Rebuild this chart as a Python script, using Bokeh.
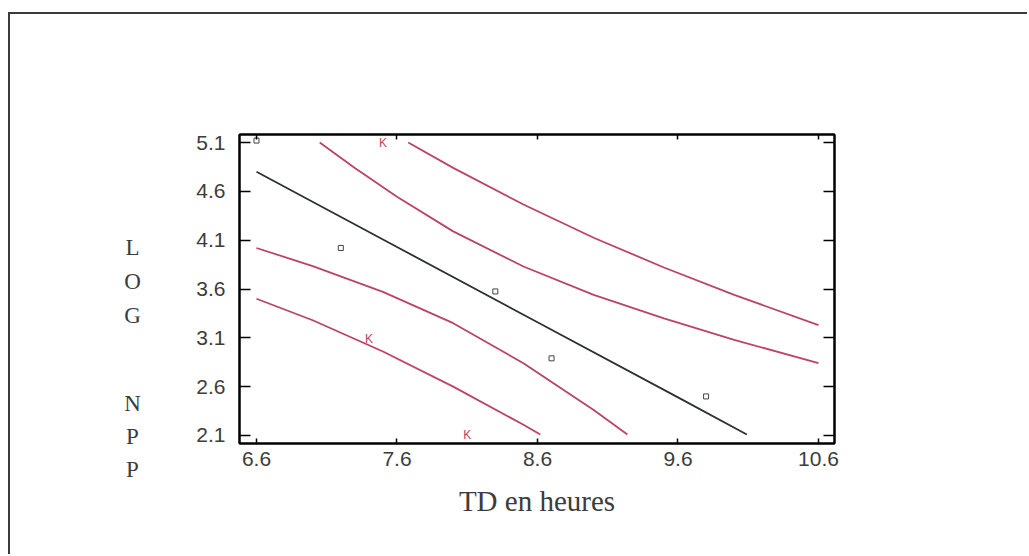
from bokeh.plotting import figure
from bokeh.models import Range1d, FixedTicker, LinearAxis
from bokeh.embed import file_html
from bokeh.resources import INLINE
from bokeh.core.properties import value

# ---- data ----
x_ticks = [6.6, 7.6, 8.6, 9.6, 10.6]
y_ticks = [2.1, 2.6, 3.1, 3.6, 4.1, 4.6, 5.1]

obs_x = [6.6, 7.2, 8.3, 8.7, 9.8]
obs_y = [5.12, 4.02, 3.575, 2.89, 2.50]

out_x = [7.5, 7.4, 8.1]
out_y = [5.1, 3.09, 2.11]

fit_x = [6.6, 7.6, 8.6, 9.6, 10.09]
fit_y = [4.80, 4.03, 3.26, 2.49, 2.11]

up_in_x = [7.05, 7.3, 7.6, 8.0, 8.5, 9.0, 9.5, 10.0, 10.6]
up_in_y = [5.10, 4.84, 4.545, 4.19, 3.83, 3.54, 3.30, 3.08, 2.84]

up_out_x = [7.68, 8.0, 8.5, 9.0, 9.5, 10.0, 10.6]
up_out_y = [5.10, 4.84, 4.465, 4.125, 3.82, 3.54, 3.23]

lo_in_x = [6.6, 7.0, 7.5, 8.0, 8.5, 9.0, 9.24]
lo_in_y = [4.02, 3.835, 3.57, 3.25, 2.84, 2.36, 2.11]

lo_out_x = [6.6, 7.0, 7.5, 8.0, 8.5, 8.62]
lo_out_y = [3.50, 3.28, 2.96, 2.60, 2.21, 2.11]

y_letters = ["L", "O", "G", "N", "P", "P"]
x_label = "TD en heures"

RED = "#bb4463"
DARK = "#2c302e"
GREY = "#3c3c3c"

# ---- main plot ----
p = figure(width=1019, height=542, output_backend="svg", toolbar_location=None,
           x_range=Range1d(6.479, 10.714), y_range=Range1d(2.018, 5.182),
           min_border_left=229, min_border_right=195, min_border_top=120,
           min_border_bottom=113)
p.xgrid.visible = False
p.ygrid.visible = False
p.outline_line_color = "black"
p.outline_line_width = 2
p.background_fill_color = "white"
p.border_fill_color = "white"
p.styles = {"border-top": "2px solid #3a3a3a", "border-left": "2px solid #3a3a3a",
            "margin-left": "8px", "margin-top": "12px"}

for ax in p.xaxis:
    ax.ticker = FixedTicker(ticks=x_ticks)
    ax.major_tick_in = 5
    ax.major_tick_out = 0
    ax.minor_tick_line_color = None
    ax.axis_line_color = "black"
    ax.axis_line_width = 2
    ax.major_tick_line_color = "black"
    ax.major_tick_line_width = 1.5
    ax.major_label_text_font = "Liberation Sans"
    ax.major_label_text_font_size = "21px"
    ax.major_label_text_color = GREY
    ax.major_label_standoff = 8
    ax.axis_label = x_label
    ax.axis_label_text_font = "Liberation Serif"
    ax.axis_label_text_font_style = "normal"
    ax.axis_label_text_font_size = "29px"
    ax.axis_label_text_color = GREY
    ax.axis_label_standoff = 16

for ax in p.yaxis:
    ax.ticker = FixedTicker(ticks=y_ticks)
    ax.major_tick_in = 11
    ax.major_tick_out = 0
    ax.minor_tick_line_color = None
    ax.axis_line_color = "black"
    ax.axis_line_width = 2
    ax.major_tick_line_color = "black"
    ax.major_tick_line_width = 1.5
    ax.major_label_text_font = "Liberation Sans"
    ax.major_label_text_font_size = "21px"
    ax.major_label_text_color = GREY
    ax.major_label_standoff = 14

top = LinearAxis(ticker=FixedTicker(ticks=x_ticks), major_tick_in=5, major_tick_out=0,
                 minor_tick_line_color=None, major_label_text_color=None,
                 axis_line_color="black", axis_line_width=2, major_tick_line_width=1.5)
p.add_layout(top, "above")
right = LinearAxis(ticker=FixedTicker(ticks=y_ticks), major_tick_in=11, major_tick_out=0,
                   minor_tick_line_color=None, major_label_text_color=None,
                   axis_line_color="black", axis_line_width=2, major_tick_line_width=1.5)
p.add_layout(right, "right")

p.line(up_out_x, up_out_y, line_color=RED, line_width=1.8)
p.line(up_in_x, up_in_y, line_color=RED, line_width=1.8)
p.line(lo_in_x, lo_in_y, line_color=RED, line_width=1.8)
p.line(lo_out_x, lo_out_y, line_color=RED, line_width=1.8)
p.line(fit_x, fit_y, line_color=DARK, line_width=1.8)

p.scatter(obs_x, obs_y, marker="square", size=5, fill_color=None, line_color="#444444",
          line_width=1)
p.text(out_x, out_y, text=["K"] * len(out_x), text_color=RED, text_font=value("Liberation Sans"),
       text_font_size="12px", text_align="center", text_baseline="middle")

# ---- transparent overlay holding the stacked y title (page-pixel coordinates) ----
lab = figure(width=200, height=556, output_backend="svg", toolbar_location=None,
             x_range=Range1d(0, 200), y_range=Range1d(556, 0),
             x_axis_location=None, y_axis_location=None,
             min_border_left=0, min_border_right=0, min_border_top=0, min_border_bottom=0)
lab.xgrid.visible = False
lab.ygrid.visible = False
lab.outline_line_color = None
lab.background_fill_color = None
lab.border_fill_color = None
lab.styles = {"position": "absolute", "left": "0px", "top": "0px"}
letter_x = [132] * 6
letter_y = [247, 281, 315, 403, 436, 469]
lab.text(letter_x, letter_y, text=y_letters, text_font=value("Liberation Serif"),
         text_font_size="23px", text_color=GREY, text_align="center",
         text_baseline="middle")

open("out.html", "w").write(file_html([p, lab], INLINE))
